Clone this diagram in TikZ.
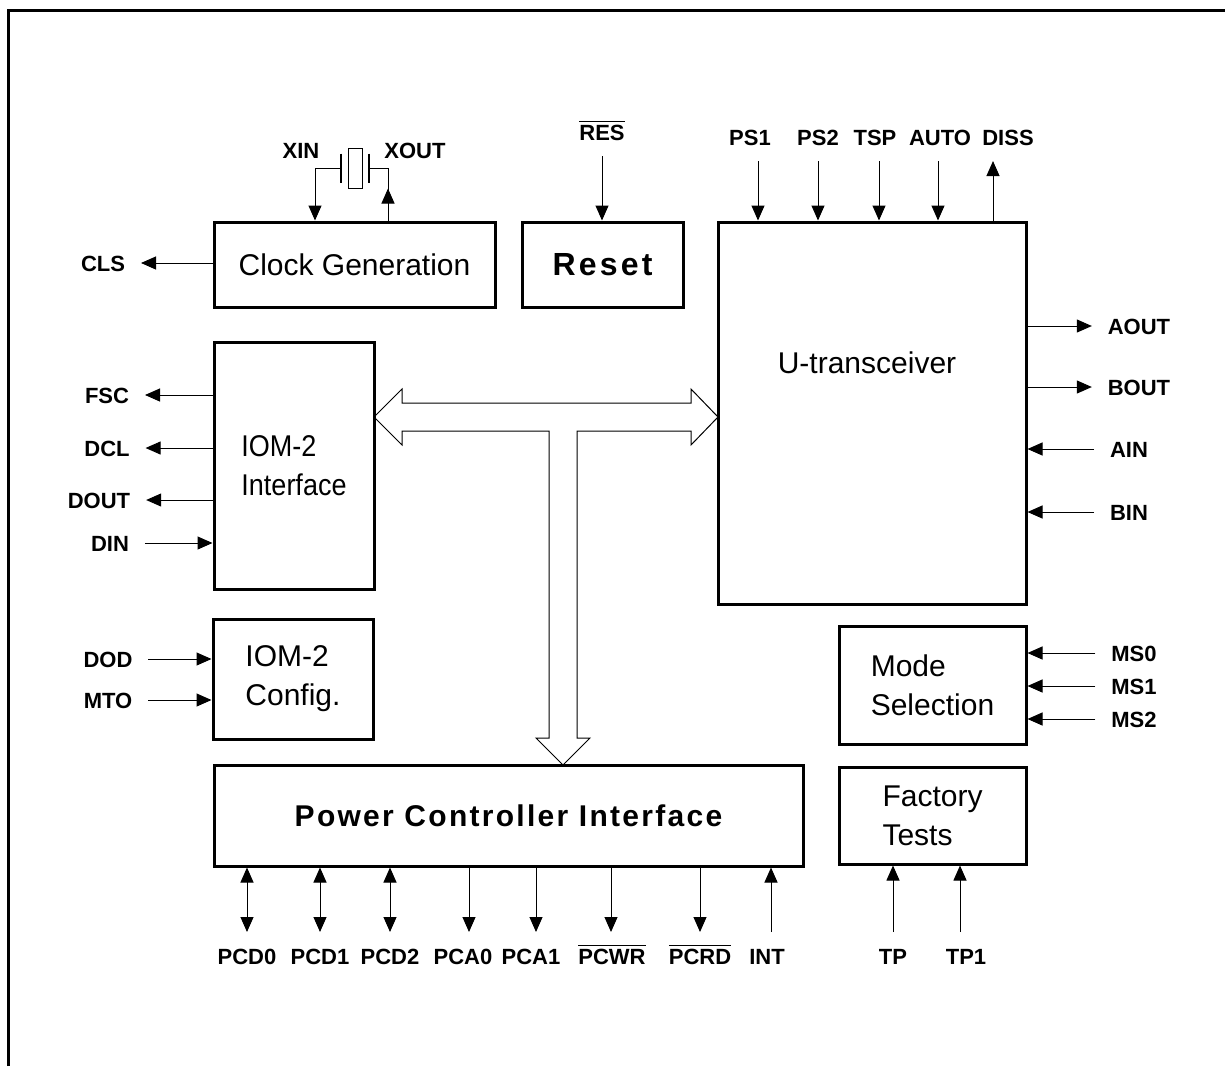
\documentclass[tikz,border=0pt]{standalone}
\usepackage{fontspec}
\setmainfont{Liberation Sans}
\usepackage{tikz}
\usetikzlibrary{arrows.meta, positioning, calc}
\newcommand{\ovl}[1]{$\overline{\mbox{#1}}$}
\tikzset{
  blkbox/.style={draw=black, line width=1.5pt, fill=white, align=left, inner sep=0pt,
    font=\fontsize{15}{19.5}\selectfont},
  blktext/.style={font=\fontsize{15}{19.5}\selectfont, inner sep=0pt},
  blkarrow/.style={-{Triangle[length=7.5pt, width=6.5pt]}, line width=0.5pt},
  blkboth/.style={{Triangle[length=7.5pt, width=6.5pt]}-{Triangle[length=7.5pt, width=6.5pt]}, line width=0.5pt},
  blkwire/.style={line width=0.5pt},
  blkplate/.style={line width=1.2pt},
  blklabel/.style={font=\bfseries\fontsize{11}{13}\selectfont, inner sep=0pt, outer sep=8pt,
    text height=8pt, text depth=0pt},
  blkbus/.style={line width=0.5pt, line join=miter},
  blkframe/.style={line width=1.5pt},
}

\begin{document}
\begin{tikzpicture}[x=0.5pt, y=-0.5pt]
  \useasboundingbox (0,0) rectangle (1225,1066);
  \draw[blkframe] (8,1066) -- (8,10) -- (1225,10);

  % blocks
  \node[blkbox, minimum width=140.5pt, minimum height=42.5pt] (clk) at (354.5,264.5) {Clock Generation};
  \node[blkbox, minimum width=80.5pt, minimum height=42.5pt,
    font=\bfseries\fontsize{16}{19.5}\selectfont] (rst) at (602.5,264.5) {\addfontfeature{LetterSpace=10}Reset};
  \node[blkbox, minimum width=154pt, minimum height=191pt] (utr) at (872,413) {};
  \node[blktext] (utrtxt) at (867,363) {U-transceiver};
  \node[blkbox, minimum width=80pt, minimum height=123.5pt] (iom) at (294,465.5)
    {\addfontfeature{FakeStretch=0.9}IOM-2\\\addfontfeature{FakeStretch=0.9}Interface};
  \node[blkbox, minimum width=80pt, minimum height=60pt] (cfg) at (293,679) {IOM-2\\Config.};
  \node[blkbox, minimum width=93.5pt, minimum height=59pt] (mode) at (932.5,685) {Mode\\Selection};
  \node[blkbox, minimum width=93.5pt, minimum height=48.5pt] (fact) at (932.5,815.5) {Factory\\Tests};
  \node[blkbox, minimum width=294.5pt, minimum height=50.5pt,
    font=\bfseries\fontsize{15}{19.5}\selectfont] (pci) at (508.5,815.5) {\addfontfeature{LetterSpace=7.6}Power Controller Interface};

  % bus
  \draw[blkbus] (374,417) -- (402,389) -- (402,403) -- (691,403) -- (691,389) -- (718,417)
    -- (691,445) -- (691,431) -- (577,431) -- (577,738) -- (590,738) -- (563,765)
    -- (536,738) -- (549,738) -- (549,431) -- (402,431) -- (402,445) -- cycle;

  % crystal
  \node[blklabel] (xin) at (301,150) {XIN};
  \node[blklabel] (xout) at (415,150) {XOUT};
  \coordinate (xtal) at (355,168);
  \coordinate (xinw) at (315,168);
  \coordinate (xoutw) at (388,168);
  \draw[blkplate] ($(xtal)+(-14,-14.5)$) -- ($(xtal)+(-14,14.5)$);
  \draw[blkplate] ($(xtal)+(14,-14.5)$) -- ($(xtal)+(14,14.5)$);
  \draw[blkwire] ($(xtal)+(-7,-20)$) rectangle ($(xtal)+(7,20)$);
  \draw[blkarrow] ($(xtal)+(-14,0)$) -- (xinw) -- (xinw |- clk.north);
  \draw[blkwire] ($(xtal)+(14,0)$) -- (xoutw) -- (xoutw |- clk.north);
  \draw[blkarrow] (xoutw |- clk.north) -- ++(0,-32);

  % reset and U-transceiver pins
  \node[blklabel] (res) at (602,132) {\ovl{RES}};
  \node[blklabel] (ps1) at (750,137) {PS1};
  \node[blklabel] (ps2) at (818,137) {PS2};
  \node[blklabel] (tsp) at (875,137) {TSP};
  \node[blklabel] (auto) at (940,137) {AUTO};
  \node[blklabel] (diss) at (1008,137) {DISS};
  \draw[blkarrow] (res.south) -- (res.south |- rst.north);
  \draw[blkarrow] ([xshift=4pt]ps1.south) -- ([xshift=4pt]ps1.south |- utr.north);
  \draw[blkarrow] (ps2.south) -- (ps2.south |- utr.north);
  \draw[blkarrow] ([xshift=2pt]tsp.south) -- ([xshift=2pt]tsp.south |- utr.north);
  \draw[blkarrow] ([xshift=-1pt]auto.south) -- ([xshift=-1pt]auto.south |- utr.north);
  \draw[blkarrow] ([xshift=-7.5pt]diss.south |- utr.north) -- ([xshift=-7.5pt]diss.south);

  \node[blklabel] (aout) at (1139,326) {AOUT};
  \node[blklabel] (bout) at (1139,387) {BOUT};
  \node[blklabel] (ain) at (1129,449) {AIN};
  \node[blklabel] (bin) at (1129,512) {BIN};
  \draw[blkarrow] (utr.east |- aout) -- (aout.west);
  \draw[blkarrow] (utr.east |- bout) -- (bout.west);
  \draw[blkarrow] (ain.west) -- (utr.east |- ain);
  \draw[blkarrow] (bin.west) -- (utr.east |- bin);

  \node[blklabel] (ms0) at (1134,653) {MS0};
  \node[blklabel] (ms1) at (1134,686) {MS1};
  \node[blklabel] (ms2) at (1134,719) {MS2};
  \draw[blkarrow] (ms0.west) -- (mode.east |- ms0);
  \draw[blkarrow] (ms1.west) -- (mode.east |- ms1);
  \draw[blkarrow] (ms2.west) -- (mode.east |- ms2);

  % left pins
  \node[blklabel] (cls) at (103,263) {CLS};
  \node[blklabel] (fsc) at (107,395) {FSC};
  \node[blklabel] (dcl) at (107,448) {DCL};
  \node[blklabel] (dout) at (99,500) {DOUT};
  \node[blklabel] (din) at (110,543) {DIN};
  \node[blklabel] (dod) at (108,659) {DOD};
  \node[blklabel] (mto) at (108,700) {MTO};
  \draw[blkarrow] (clk.west |- cls) -- (cls.east);
  \draw[blkarrow] (iom.west |- fsc) -- (fsc.east);
  \draw[blkarrow] (iom.west |- dcl) -- (dcl.east);
  \draw[blkarrow] (iom.west |- dout) -- (dout.east);
  \draw[blkarrow] (din.east) -- (iom.west |- din);
  \draw[blkarrow] (dod.east) -- (cfg.west |- dod);
  \draw[blkarrow] (mto.east) -- (cfg.west |- mto);

  % power controller pins
  \node[blklabel] (pcd0) at (247,956) {PCD0};
  \node[blklabel] (pcd1) at (320,956) {PCD1};
  \node[blklabel] (pcd2) at (390,956) {PCD2};
  \node[blklabel] (pca0) at (463,956) {PCA0};
  \node[blklabel] (pca1) at (531,956) {PCA1};
  \node[blklabel] (pcwr) at (612,956) {\ovl{PCWR}};
  \node[blklabel] (pcrd) at (700,956) {\ovl{PCRD}};
  \node[blklabel] (int) at (767,956) {INT};
  \draw[blkboth] (pci.south -| pcd0) -- (pcd0.north);
  \draw[blkboth] (pci.south -| pcd1) -- (pcd1.north);
  \draw[blkboth] (pci.south -| pcd2) -- (pcd2.north);
  \draw[blkarrow] ([xshift=3pt]pci.south -| pca0) -- ([xshift=3pt]pca0.north);
  \draw[blkarrow] ([xshift=2.5pt]pci.south -| pca1) -- ([xshift=2.5pt]pca1.north);
  \draw[blkarrow] ([xshift=-0.5pt]pci.south -| pcwr) -- ([xshift=-0.5pt]pcwr.north);
  \draw[blkarrow] (pci.south -| pcrd) -- (pcrd.north);
  \draw[blkarrow] ([xshift=2pt]int.north) -- ([xshift=2pt]pci.south -| int);

  % factory test pins
  \node[blklabel] (tp) at (893,956) {TP};
  \node[blklabel] (tp1) at (966,956) {TP1};
  \draw[blkarrow] (tp.north) -- (fact.south -| tp);
  \draw[blkarrow] ([xshift=-3pt]tp1.north) -- ([xshift=-3pt]fact.south -| tp1);
\end{tikzpicture}
\end{document}
